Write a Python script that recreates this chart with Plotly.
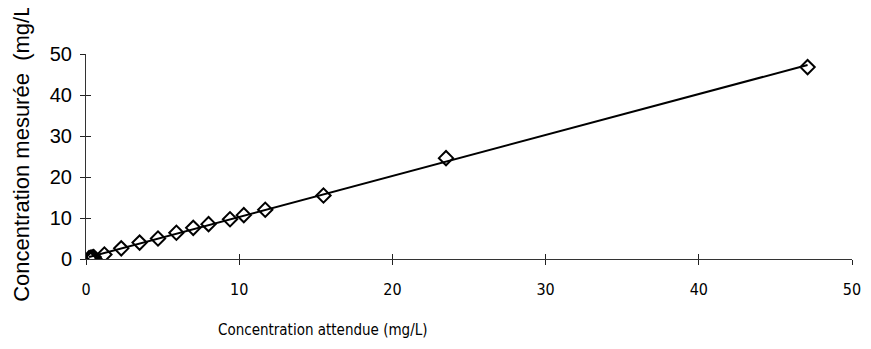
import numpy as np
import plotly.graph_objects as go

# Data
expected = [0.2, 0.3, 0.4, 0.5, 1.2, 2.3, 3.5, 4.7, 5.9, 7.0, 8.0, 9.4, 10.3, 11.7, 15.5, 23.5, 47.1]
measured = [0.2, 0.3, 0.4, 0.5, 1.1, 2.6, 4.0, 5.0, 6.4, 7.6, 8.5, 9.7, 10.7, 12.0, 15.5, 24.6, 46.8]
x_ticks = [0, 10, 20, 30, 40, 50]
y_ticks = [0, 10, 20, 30, 40, 50]
x_title = "Concentration attendue (mg/L)"
y_title = "Concentration mesurée  (mg/L)"

slope, intercept = np.polyfit(expected, measured, 1)
fit_x = [min(expected), max(expected)]
fit_y = [slope * v + intercept for v in fit_x]

OFF = 8  # page body margin offset
W, H = 871 - 2 * OFF, 349 - 2 * OFF
L, T = 86 - OFF, 54 - OFF
R = W - (861 - OFF)
B = H - (259 - OFF)
pw, ph = W - L - R, H - T - B


def px_x(p):
    return (p - OFF - L) / pw


def px_y(p):
    return (T + ph - (p - OFF)) / ph


fig = go.Figure()
fig.add_trace(go.Scatter(x=fit_x, y=fit_y, mode="lines",
                         line=dict(color="black", width=2), showlegend=False))
fig.add_trace(go.Scatter(x=expected, y=measured, mode="markers",
                         marker=dict(symbol="diamond-open", size=11, color="black",
                                     line=dict(width=2, color="black")),
                         showlegend=False))
fig.add_trace(go.Scatter(x=[0], y=[0], xaxis="x2", yaxis="y2", mode="markers",
                         marker=dict(opacity=0), showlegend=False, hoverinfo="skip"))

narrow = "DejaVu Sans Condensed, Liberation Sans, sans-serif"
normal = "Liberation Sans, Arial, sans-serif"

fig.update_layout(
    width=W, height=H,
    margin=dict(l=L, r=R, t=T, b=B),
    paper_bgcolor="white", plot_bgcolor="white",
    xaxis=dict(range=[0, 50], tickvals=x_ticks, ticks="outside", ticklen=5,
               tickcolor="#222", showline=True, linecolor="#333", linewidth=1,
               showgrid=False, zeroline=False, ticklabelstandoff=11,
               ticklabeloverflow="allow",
               tickfont=dict(family=narrow, size=16, color="black")),
    yaxis=dict(range=[0, 50], tickvals=y_ticks, ticks="outside", ticklen=5,
               tickcolor="#222", showline=True, linecolor="#333", linewidth=1,
               showgrid=False, zeroline=False, ticklabelstandoff=4,
               tickfont=dict(family=normal, size=20, color="black")),
    xaxis2=dict(range=[0, 50], tickvals=x_ticks, ticks="inside", ticklen=5,
                tickcolor="#222", overlaying="x", anchor="y", showticklabels=False,
                showgrid=False, zeroline=False, showline=False),
    yaxis2=dict(range=[0, 50], tickvals=y_ticks, ticks="inside", ticklen=5,
                tickcolor="#222", overlaying="y", anchor="x", showticklabels=False,
                showgrid=False, zeroline=False, showline=False),
    annotations=[
        dict(text=x_title, xref="paper", yref="paper",
             x=px_x(325), y=px_y(330), xanchor="center", yanchor="middle",
             showarrow=False, font=dict(family=narrow, size=15, color="black")),
        dict(text=y_title, xref="paper", yref="paper", textangle=-90,
             x=px_x(20), y=px_y(304), xanchor="center", yanchor="bottom",
             showarrow=False, font=dict(family=normal, size=22, color="black")),
    ],
)

fig.write_html("out.html")
